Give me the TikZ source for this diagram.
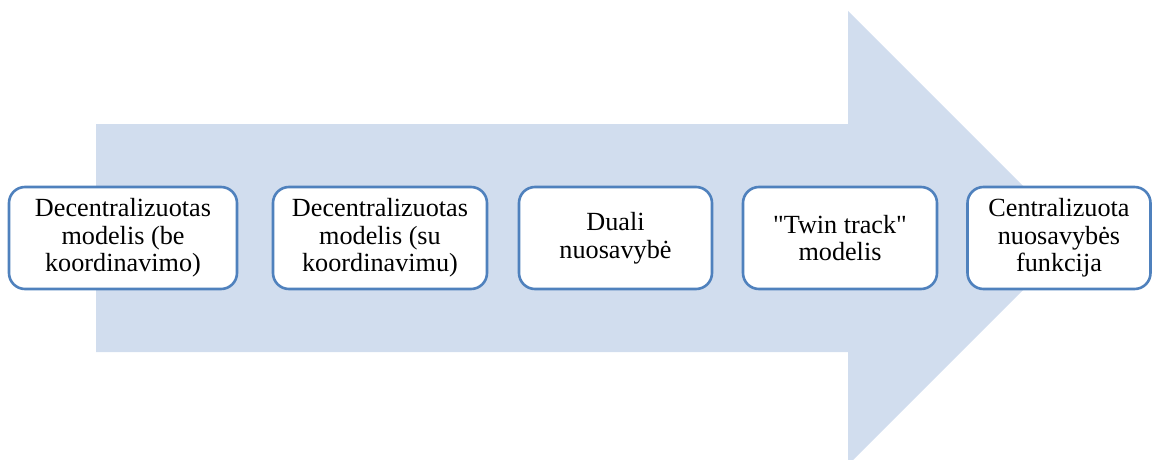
\documentclass[tikz,border=0pt]{standalone}
\usepackage{fontspec}
\setmainfont{Liberation Serif}[Ligatures=TeXOff]
\definecolor{arrowfill}{HTML}{D1DDEE}
\definecolor{boxline}{HTML}{4F81BD}
\begin{document}
\begin{tikzpicture}[x=1pt,y=-1pt,
  stage/.style={draw=boxline, line width=2.6pt, fill=white, rounded corners=16pt,
    minimum height=102pt, inner sep=0pt, align=center,
    font=\fontsize{26.2}{27.5}\selectfont},
]
\useasboundingbox (0,0) rectangle (1152,460);
\clip (0,0) rectangle (1152,460);
% broad process arrow behind the stages
\fill[arrowfill] (96,124) -- (848,124) -- (848,11) -- (1075,238)
  -- (848,465) -- (848,352) -- (96,352) -- cycle;
% stages
\node[stage, minimum width=228pt] (s1) at (123,238)
  {Decentralizuotas\\modelis (be\\koordinavimo)};
\node[stage, minimum width=214pt] (s2) at (380,238)
  {Decentralizuotas\\modelis (su\\koordinavimu)};
\node[stage, minimum width=193pt] (s3) at (615.5,238)
  {Duali\\nuosavybė};
\node[stage, minimum width=194pt] (s4) at (840,238)
  {"Twin track"\\modelis};
\node[stage, minimum width=183pt] (s5) at (1059,238)
  {Centralizuota\\nuosavybės\\funkcija};
\end{tikzpicture}
\end{document}
